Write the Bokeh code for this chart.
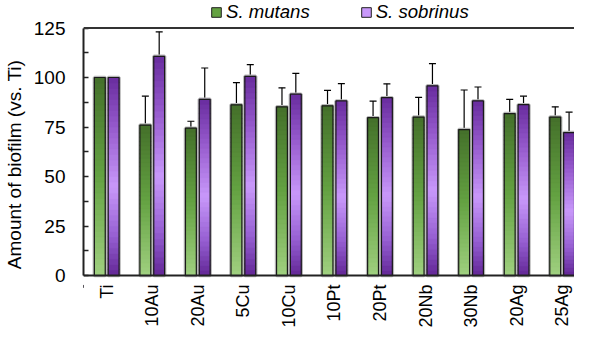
import numpy as np
from bokeh.plotting import figure
from bokeh.models import (Range1d, FixedTicker, Whisker, ColumnDataSource, Span,
                          Legend, LegendItem, TeeHead)
from bokeh.core.properties import value
from bokeh.embed import file_html
from bokeh.resources import INLINE

categories = ["Ti", "10Au", "20Au", "5Cu", "10Cu", "10Pt", "20Pt", "20Nb", "30Nb", "20Ag", "25Ag"]
mutans = [100, 76.0, 74.4, 86.2, 85.2, 85.7, 79.7, 80.0, 73.7, 81.8, 80.0]
mutans_err = [0, 14.6, 3.5, 11.2, 9.6, 7.8, 8.4, 10.0, 20.0, 7.2, 5.2]
sobrinus = [100, 110.7, 89.0, 100.6, 91.6, 88.2, 89.8, 95.8, 88.2, 86.3, 72.2]
sobrinus_err = [0, 12.4, 15.8, 5.9, 10.5, 8.7, 7.0, 11.2, 7.0, 4.3, 10.3]
series_names = ["S. mutans", "S. sobrinus"]
y_ticks = [0, 25, 50, 75, 100, 125]
y_minor = [12.5, 37.5, 62.5, 87.5, 112.5]

FONT = "Liberation Sans"
OFFSET = 0.152
BW = 0.2386
NSLICE = 36

# gradient stops: (fraction of bar height from bottom, rgb)
green_stops = [(0.0, (160, 208, 128)), (0.5, (100, 162, 66)), (1.0, (68, 112, 42))]
purple_stops = [(0.0, (98, 38, 150)), (0.2, (150, 95, 210)), (0.45, (200, 152, 250)),
                (0.75, (150, 90, 205)), (1.0, (104, 44, 158))]


def grad(stops, f):
    for (f0, c0), (f1, c1) in zip(stops[:-1], stops[1:]):
        if f0 <= f <= f1:
            t = (f - f0) / (f1 - f0)
            c = [int(round(a + (b - a) * t)) for a, b in zip(c0, c1)]
            return "#%02x%02x%02x" % tuple(c)
    return "#%02x%02x%02x" % stops[-1][1]


p = figure(width=574, height=328, output_backend="svg", toolbar_location=None,
           x_range=Range1d(-0.51, 10.271), y_range=Range1d(-26.77, 138.9),
           min_border_left=77, min_border_right=0, min_border_top=0, min_border_bottom=0)
p.grid.visible = False
p.outline_line_color = None
p.background_fill_color = "white"

xs = np.arange(len(categories))
legend_renderers = []
for vals, errs, stops, off in [(mutans, mutans_err, green_stops, -OFFSET),
                               (sobrinus, sobrinus_err, purple_stops, OFFSET)]:
    x = xs + off
    # halo
    p.vbar(x=x, top=vals, bottom=0, width=BW, fill_color=None,
           line_color="#b8b8b8", line_width=3.5)
    sx, sb, st, sc = [], [], [], []
    for xi, v in zip(x, vals):
        for k in range(NSLICE):
            sx.append(xi)
            sb.append(v * k / NSLICE)
            st.append(min(v, v * (k + 1.2) / NSLICE))
            sc.append(grad(stops, (k + 0.5) / NSLICE))
    p.vbar(x=sx, bottom=sb, top=st, width=BW, fill_color=sc, line_color=sc, line_width=0.6)
    p.vbar(x=x, top=vals, bottom=0, width=BW, fill_color=None,
           line_color="#1a1a1a", line_width=1.2)
    v = np.array(vals)
    e = np.array(errs)
    src = ColumnDataSource(dict(x=x, lo=v - e, hi=v + e))
    w = Whisker(source=src, base="x", lower="lo", upper="hi", line_color="black", line_width=1.2,
                upper_head=TeeHead(size=7, line_color="black", line_width=1.2),
                lower_head=TeeHead(size=7, line_color="black", line_width=1.2))
    p.add_layout(w)
    mid = grad(stops, 0.5) if stops is green_stops else grad(stops, 0.45)
    r = p.vbar(x=[-5], top=[-5], bottom=[-6], width=0.1, fill_color=mid,
               line_color="#222222", line_width=1)
    legend_renderers.append(r)

# frame top line and x axis line at y = 0
p.add_layout(Span(location=125, dimension="width", line_color="#333333", line_width=2))
p.add_layout(Span(location=0, dimension="width", line_color="#222222", line_width=2))

# x category labels, rotated, hanging below y = 0
p.text(x=xs, y=[0] * len(categories), text=categories, angle=np.pi / 2,
       text_align="right", text_baseline="middle", y_offset=9,
       text_font=value(FONT), text_font_size=value("18px"), text_color="black")
p.xaxis.visible = False

# y axis
p.yaxis.bounds = (0, 125)
p.yaxis.ticker = FixedTicker(ticks=y_ticks, minor_ticks=y_minor)
p.yaxis.major_tick_in = 5
p.yaxis.major_tick_out = 0
p.yaxis.minor_tick_in = 5
p.yaxis.minor_tick_out = 0
p.yaxis.major_label_standoff = 18
p.yaxis.axis_label = "Amount of biofilm (vs. Ti)"
p.yaxis.axis_label_standoff = 6
p.yaxis.axis_label_text_font = FONT
p.yaxis.axis_label_text_font_size = "19px"
p.yaxis.axis_label_text_font_style = "normal"
p.yaxis.axis_label_text_color = "black"
p.yaxis.axis_line_color = "#222222"
p.yaxis.axis_line_width = 2
p.yaxis.major_tick_line_color = "#222222"
p.yaxis.major_tick_line_width = 1.5
p.yaxis.minor_tick_line_color = "#222222"
p.yaxis.minor_tick_line_width = 1.5
p.yaxis.major_label_text_font = FONT
p.yaxis.major_label_text_font_size = "19px"
p.yaxis.major_label_text_color = "black"

legend = Legend(items=[LegendItem(label=series_names[0], renderers=[legend_renderers[0]]),
                       LegendItem(label=series_names[1], renderers=[legend_renderers[1]])],
                orientation="horizontal", location=(127, 305))
legend.glyph_width = 12
legend.glyph_height = 12
legend.label_standoff = 4
legend.spacing = 50
legend.padding = 0
legend.margin = 0
legend.border_line_color = None
legend.background_fill_alpha = 0
legend.label_text_font = FONT
legend.label_text_font_style = "italic"
legend.label_text_font_size = "18.6px"
legend.label_text_color = "black"
p.add_layout(legend, "center")

open("out.html", "w").write(file_html(p, INLINE))
